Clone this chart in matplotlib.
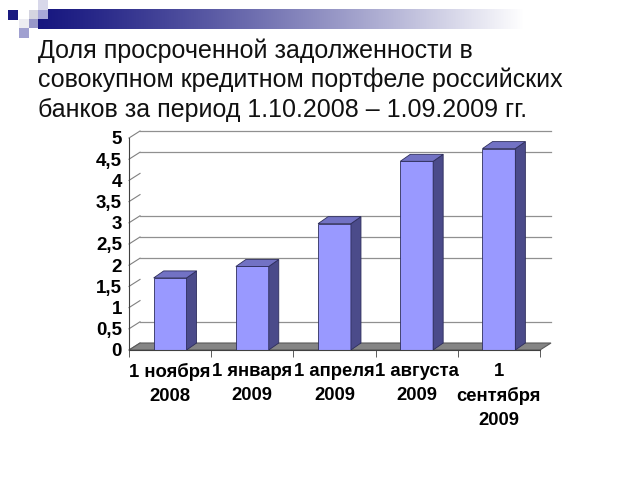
import numpy as np
import matplotlib.pyplot as plt
from matplotlib.patches import Polygon, Rectangle

plt.rcParams['font.family'] = ['Liberation Sans', 'DejaVu Sans']

# данные с картинки
title_lines = ['Доля просроченной задолженности в',
               'совокупном кредитном портфеле российских',
               'банков за период 1.10.2008 – 1.09.2009 гг.']
categories = ['1 ноября\n2008', '1 января\n2009', '1 апреля\n2009',
              '1 августа\n2009', '1\nсентября\n2009']
values = [1.7, 1.97, 2.98, 4.45, 4.75]
y_ticks = [0, 0.5, 1, 1.5, 2, 2.5, 3, 3.5, 4, 4.5, 5]
y_labels = ['0', '0,5', '1', '1,5', '2', '2,5', '3', '3,5', '4', '4,5', '5']
grid_levels = [0.5, 2, 2.5, 3, 4.5, 5]

front_c = '#9999ff'
side_c = '#4b4b8a'
top_c = '#7272c4'
edge_c = '#2e2e5c'

W, H = 640, 480
fig = plt.figure(figsize=(6.4, 4.8), dpi=100)

# полоска с градиентом сверху
hdr = fig.add_axes([38 / W, 1 - 29 / H, 602 / W, 20 / H])
t = np.clip(np.arange(602) / 485, 0, 1) ** 1.2
navy = np.array([0.09, 0.09, 0.50])
grad = navy[None, :] * (1 - t[:, None]) + t[:, None]
hdr.imshow(grad[None, :, :], aspect='auto')
hdr.axis('off')

# квадратики в углу (x, y, w, h в пикселях сверху)
squares = [(8, 10, 10, 10, '#1a1a80'), (29, 10, 9, 9, '#d4d4e0'),
           (38, 0, 10, 10, '#d8d8ea'), (38, 10, 10, 9, '#a8a8d8'),
           (29, 19, 9, 9, '#9898c8'), (19, 19, 10, 9, '#ececf2'),
           (19, 28, 10, 10, '#a0a0d0')]
for x, y, w, h, c in squares:
    fig.add_artist(Rectangle((x / W, 1 - (y + h) / H), w / W, h / H,
                             transform=fig.transFigure, color=c, lw=0))

for i, line in enumerate(title_lines):
    fig.text(38 / W, 1 - (58 + 29.5 * i) / H, line, fontsize=18,
             va='baseline', color='#111111')

ax = fig.add_axes([129 / W, 1 - 350 / H, 411 / W, 212 / H])
ax.set_xlim(-0.5, 4.5)
ax.set_ylim(0, 5)
x = np.arange(len(values))

dx, dy = 0.134, 0.165     # глубина стенки
bdx, bdy = 0.122, 0.165   # глубина столбика
bw = 0.4

# пол
ax.add_patch(Polygon([(-0.5, 0), (4.5, 0), (4.5 + dx, dy), (-0.5 + dx, dy)],
                     closed=True, fc='#858585', ec='#5a5a5a', lw=0.8,
                     zorder=1, clip_on=False))
# сетка на задней стенке и косые штрихи слева
for lv in y_ticks:
    ax.plot([-0.5, -0.5 + dx], [lv, lv + dy], color='#808080', lw=0.8,
            zorder=0.5, clip_on=False)
for lv in grid_levels:
    ax.plot([-0.5 + dx, 4.5 + dx], [lv + dy, lv + dy], color='#909090',
            lw=0.9, zorder=0.5, clip_on=False)

ax.bar(x, values, width=bw, color=front_c, edgecolor=edge_c, linewidth=0.6,
       zorder=3)
for xi, v in zip(x, values):
    r = xi + bw / 2
    l = xi - bw / 2
    ax.add_patch(Polygon([(r, 0), (r + bdx, bdy), (r + bdx, v + bdy), (r, v)],
                         closed=True, fc=side_c, ec=edge_c, lw=0.6, zorder=3,
                         clip_on=False))
    ax.add_patch(Polygon([(l, v), (r, v), (r + bdx, v + bdy), (l + bdx, v + bdy)],
                         closed=True, fc=top_c, ec=edge_c, lw=0.6, zorder=3,
                         clip_on=False))

for s in ['top', 'right']:
    ax.spines[s].set_visible(False)
for s in ['left', 'bottom']:
    ax.spines[s].set_color('#404040')
    ax.spines[s].set_zorder(4)

ax.set_yticks(y_ticks)
ax.set_yticklabels(y_labels, fontsize=13.5, fontweight='bold')
ax.set_xticks(x)
ax.set_xticklabels(categories, fontsize=13.3, fontweight='bold', linespacing=1.55)
ax.set_xticks(np.arange(-0.5, 5, 1), minor=True)
ax.tick_params(axis='y', length=0, pad=5)
ax.tick_params(axis='x', which='major', length=0, pad=9)
ax.tick_params(axis='x', which='minor', length=5, color='#404040')
ax.set_facecolor('none')

fig.savefig('out.png', dpi=100)
